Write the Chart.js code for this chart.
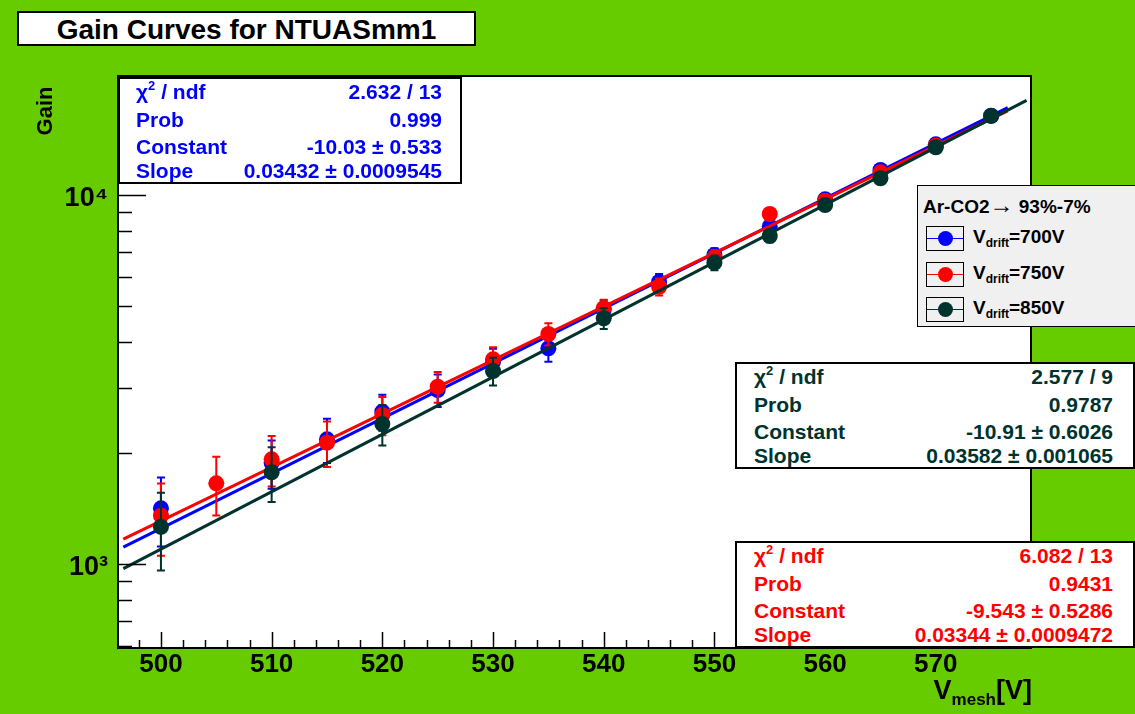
<!DOCTYPE html>
<html>
<head>
<meta charset="utf-8">
<script src="https://cdn.jsdelivr.net/npm/chart.js@4.4.0/dist/chart.umd.min.js"></script>
<style>
body { margin: 0; background: #66cc00; }
#wrap { position: relative; width: 1135px; height: 714px; overflow: hidden; background: #66cc00;
  font-family: "Liberation Sans", Arial, sans-serif; font-weight: bold; }
#wrap canvas { position: absolute; left: 0; top: 0; }
.box { position: absolute; box-sizing: border-box; border: 2px solid #000; background: #fff; }
.t { position: absolute; white-space: nowrap; line-height: 1; }
.sym { position: absolute; box-sizing: border-box; width: 38px; height: 25px; border: 1.5px solid #000; }
.sym i { position: absolute; left: 0; right: 0; top: 10.5px; height: 1.5px; }
.sym b { position: absolute; left: 11px; top: 4px; width: 15px; height: 15px; border-radius: 50%; }
</style>
</head>
<body>
<div id="wrap">
  <canvas id="myChart" width="1135" height="714"></canvas>
</div>
<script>
var vBlue = [500, 510, 515, 520, 525, 530, 535, 540, 545, 550, 555, 560, 565, 570, 575];
var gBlue = [1415, 1880, 2177, 2587, 2962, 3533, 3842, 4879, 5811, 6877, 8216, 9734, 11690, 13720, 16400];
var eBlue = [300, 280, 300, 290, 300, 300, 310, 300, 300, 300, 300, 300, 300, 300, 300];

var vRed = [500, 505, 510, 515, 520, 525, 530, 535, 540, 545, 550, 555, 560, 565, 570];
var gRed = [1352, 1654, 1922, 2132, 2534, 3023, 3587, 4201, 4932, 5642, 6779, 8881, 9651, 11520, 13600];
var eRed = [300, 300, 300, 300, 300, 290, 280, 290, 270, 300, 300, 300, 300, 300, 300];

var vDark = [500, 510, 520, 530, 540, 550, 555, 560, 565, 570, 575];
var gDark = [1260, 1772, 2395, 3334, 4634, 6554, 7743, 9395, 11100, 13470, 16380];
var eDark = [300, 300, 300, 290, 300, 300, 300, 300, 300, 300, 300];

// fit line end points as drawn
var fitXBlue = [496.6, 576.5], fitBlue = [1111, 17250];
var fitXRed = [496.6, 576.5], fitRed = [1168, 16900];
var fitXDark = [496.6, 578.2], fitDark = [971, 18050];

// axis ticks
var xTicks = [498, 500, 502, 504, 506, 508, 510, 512, 514, 516, 518, 520, 522, 524, 526, 528, 530,
  532, 534, 536, 538, 540, 542, 544, 546, 548, 550, 552, 554, 556, 558, 560, 562, 564, 566, 568, 570,
  572, 574, 576, 578];
var xLabels = [500, 510, 520, 530, 540, 550, 560, 570];
var yTicks = [600, 700, 800, 900, 1000, 2000, 3000, 4000, 5000, 6000, 7000, 8000, 9000, 10000, 20000];
var yLabels = { 1000: "10\u00b3", 10000: "10\u2074" };

// fit boxes
var statNames = ["\u03c7<span style='font-size:13px;position:relative;top:-9px'>2</span> / ndf", "Prob", "Constant", "Slope"];
var statsBlue = ["2.632 / 13", "0.999", "-10.03 \u00b1 0.533", "0.03432 \u00b1 0.0009545"];
var statsDark = ["2.577 / 9", "0.9787", "-10.91 \u00b1 0.6026", "0.03582 \u00b1 0.001065"];
var statsRed = ["6.082 / 13", "0.9431", "-9.543 \u00b1 0.5286", "0.03344 \u00b1 0.0009472"];

var legendNames = ["700V", "750V", "850V"];

var BLUE = "#0000ff", RED = "#ff0000", DARK = "#00332e";

function pts(xs, ys) {
  return xs.map(function (x, i) { return { x: x, y: ys[i] }; });
}

var wrap = document.getElementById("wrap");
function text(html, x, base, size, color, right) {
  var d = document.createElement("div");
  d.className = "t";
  d.innerHTML = html;
  d.style.fontSize = size + "px";
  d.style.color = color;
  d.style.top = (base - 0.8465 * size) + "px";
  if (right) d.style.right = (1135 - x) + "px";
  else d.style.left = x + "px";
  wrap.appendChild(d);
  return d;
}
function box(x, y, w, h, bg) {
  var d = document.createElement("div");
  d.className = "box";
  d.style.left = x + "px"; d.style.top = y + "px";
  d.style.width = w + "px"; d.style.height = h + "px";
  if (bg) d.style.background = bg;
  wrap.appendChild(d);
  return d;
}

var framePlugin = {
  id: "frame",
  beforeDraw: function (c) {
    var a = c.chartArea, g = c.ctx;
    g.save();
    g.fillStyle = "#fff";
    g.fillRect(a.left, a.top, a.right - a.left, a.bottom - a.top);
    g.restore();
  },
  beforeDatasetDraw: function (c, args) {
    var ds = c.data.datasets[args.index];
    if (!ds.errors) return;
    var g = c.ctx, xs = c.scales.x, ys = c.scales.y;
    g.save();
    g.strokeStyle = ds.backgroundColor;
    g.lineWidth = 2;
    ds.data.forEach(function (p, i) {
      var px = xs.getPixelForValue(p.x);
      var t = ys.getPixelForValue(p.y + ds.errors[i]);
      var b = ys.getPixelForValue(p.y - ds.errors[i]);
      g.beginPath();
      g.moveTo(px, t); g.lineTo(px, b);
      g.moveTo(px - 4, t); g.lineTo(px + 4, t);
      g.moveTo(px - 4, b); g.lineTo(px + 4, b);
      g.stroke();
    });
    g.restore();
  },
  afterDraw: function (c) {
    var a = c.chartArea, g = c.ctx;
    g.save();
    g.strokeStyle = "#000";
    g.lineWidth = 1.5;
    g.beginPath();
    c.scales.y.ticks.forEach(function (t) {
      var py = Math.round(c.scales.y.getPixelForValue(t.value)) + 0.5;
      var len = yLabels[t.value] ? 28 : 14;
      g.moveTo(a.left, py); g.lineTo(a.left + len, py);
    });
    c.scales.x.ticks.forEach(function (t) {
      var px = Math.round(c.scales.x.getPixelForValue(t.value)) + 0.5;
      var len = t.value % 10 === 0 ? 16 : 8;
      g.moveTo(px, a.bottom); g.lineTo(px, a.bottom - len);
    });
    g.stroke();
    g.lineWidth = 2;
    g.strokeRect(a.left, a.top, a.right - a.left, a.bottom - a.top);
    g.restore();
  }
};

var ctx = document.getElementById("myChart").getContext("2d");
var chart = new Chart(ctx, {
  type: "scatter",
  data: {
    datasets: [
      { data: pts(vBlue, gBlue), errors: eBlue, backgroundColor: BLUE, pointRadius: 8, pointBorderWidth: 0, order: 6 },
      { data: pts(fitXBlue, fitBlue), showLine: true, borderColor: BLUE, borderWidth: 3, pointRadius: 0, order: 5 },
      { data: pts(vRed, gRed), errors: eRed, backgroundColor: RED, pointRadius: 8, pointBorderWidth: 0, order: 4 },
      { data: pts(fitXRed, fitRed), showLine: true, borderColor: RED, borderWidth: 3, pointRadius: 0, order: 3 },
      { data: pts(vDark, gDark), errors: eDark, backgroundColor: DARK, pointRadius: 8, pointBorderWidth: 0, order: 2 },
      { data: pts(fitXDark, fitDark), showLine: true, borderColor: DARK, borderWidth: 3, pointRadius: 0, order: 1 }
    ]
  },
  options: {
    responsive: false,
    animation: false,
    events: [],
    layout: { padding: { left: 0, right: 104, top: 76, bottom: 0 } },
    plugins: { legend: { display: false }, tooltip: { enabled: false } },
    scales: {
      x: {
        type: "linear", min: 496.12, max: 578.6,
        grid: { display: false, drawTicks: false }, border: { display: false },
        afterBuildTicks: function (s) { s.ticks = xTicks.map(function (v) { return { value: v }; }); },
        afterFit: function (s) { s.height = 66; },
        ticks: {
          autoSkip: false, maxRotation: 0, padding: 1, color: "#000",
          font: { family: "'Liberation Sans', Arial", size: 26, weight: "bold" },
          callback: function (v) { return xLabels.indexOf(v) >= 0 ? String(v) : ""; }
        }
      },
      y: {
        type: "logarithmic", min: 592, max: 21014,
        grid: { display: false, drawTicks: false }, border: { display: false },
        afterBuildTicks: function (s) { s.ticks = yTicks.map(function (v) { return { value: v }; }); },
        afterFit: function (s) { s.width = 118; },
        ticks: {
          autoSkip: false, padding: 10, labelOffset: 4, color: "#000",
          font: { family: "'Liberation Sans', Arial", size: 27, weight: "bold" },
          callback: function (v) { return yLabels[v] || ""; }
        }
      }
    }
  },
  plugins: [framePlugin]
});

// title
box(17, 11, 459, 35);
var tt = text("Gain Curves for NTUASmm1", 17, 40, 28, "#000");
tt.style.width = "459px"; tt.style.textAlign = "center";

// axis titles
var gy = text("Gain", 45, 111, 22, "#000");
gy.style.top = "111px";
gy.style.transform = "translate(-50%,-50%) rotate(-90deg)";
text("V<span style='font-size:17px;position:relative;top:6px'>mesh</span>[V]", 1032, 700, 27, "#000", true);

// fit result boxes
function statBox(x, y, w, color, vals, lx, vr) {
  box(x, y, w, 107);
  var offs = [22, 49.5, 76.5, 100.5];
  for (var i = 0; i < 4; i++) {
    text(statNames[i], lx, y + offs[i], 21, color);
    text(vals[i], vr, y + offs[i], 21, color, true);
  }
}
statBox(118, 77, 344, BLUE, statsBlue, 136, 442);
statBox(735, 362, 400, DARK, statsDark, 754, 1113);
statBox(735, 541, 400, RED, statsRed, 754, 1113);

// legend
var lg = box(917, 185, 220, 142, "#f0f0f0");
lg.style.borderWidth = "1.5px";
text("Ar-CO2<span style='font-size:24px'>\u2192</span> 93%-7%", 923, 209, 19, "#000");
var legColors = [BLUE, RED, DARK];
var legTops = [226, 262, 297];
for (var i = 0; i < 3; i++) {
  var s = document.createElement("div");
  s.className = "sym";
  s.style.left = "926px"; s.style.top = legTops[i] + "px";
  s.innerHTML = "<i style='background:" + legColors[i] + "'></i><b style='background:" + legColors[i] + "'></b>";
  wrap.appendChild(s);
  text("V<span style='font-size:12px;position:relative;top:4px'>drift</span>=" + legendNames[i], 973, legTops[i] + 17.5, 19, "#000");
}
</script>
</body>
</html>
